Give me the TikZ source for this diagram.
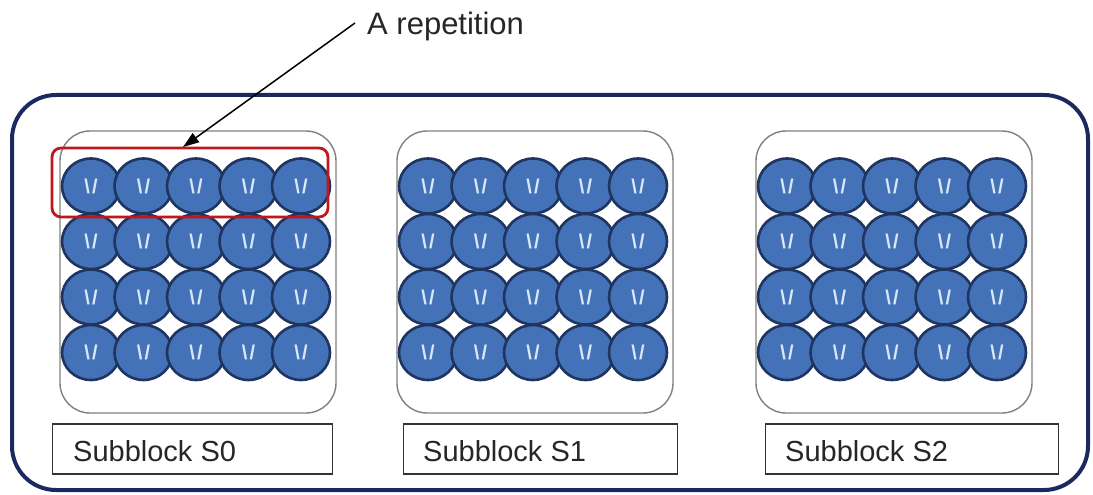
\documentclass[tikz,border=0pt]{standalone}
\usepackage{fontspec}
\setmainfont{Liberation Sans}
\usetikzlibrary{arrows.meta,calc,shapes.geometric}
\definecolor{navy}{HTML}{1B2A5E}
\definecolor{ballfill}{HTML}{4372B8}
\definecolor{ballline}{HTML}{1F3560}
\definecolor{balltext}{HTML}{D9E8F7}
\definecolor{redbox}{HTML}{C0161E}
\definecolor{subgray}{HTML}{808080}
\tikzset{
  ball/.style={ellipse,draw=ballline,fill=ballfill,line width=2.6pt,minimum width=58pt,minimum height=55pt,inner sep=0pt,
    text=balltext,font=\fontsize{20}{20}\selectfont\bfseries},
  subbox/.style={draw=subgray,line width=1.4pt,rounded corners=30pt},
  labelbox/.style={draw=black!80,line width=1.4pt,minimum height=50pt,
    inner sep=0pt,anchor=west},
  labeltext/.style={font=\fontsize{29}{34}\selectfont,text=black!85,anchor=west,inner sep=0pt},
  outer/.style={draw=navy,line width=4pt,rounded corners=44pt},
  repbox/.style={draw=redbox,line width=2.8pt,rounded corners=9pt},
}
\begin{document}
\begin{tikzpicture}[x=1pt,y=-1pt]
\useasboundingbox (0,0) rectangle (1093,495);
\draw[outer] (12,95) rectangle (1088,490);
\foreach \n/\bx/\lx/\lw/\tx in {0/60/52/280/73,1/397/403/274/423,2/756/765/293/785}{
  \draw[subbox] (\bx,131) rectangle ({\bx+276},413);
  \foreach \r in {0,1,2,3}{
    \foreach \c in {0,1,2,3,4}{
      \node[ball] (b\n-\r-\c) at ({\bx+31+52.5*\c},{186+55.5*\r}) {\raisebox{-5pt}{\textbackslash\hspace{2pt}/}};
    }
  }
  \node[labelbox,minimum width=\lw pt] (lab\n) at (\lx,449) {};
  \node[labeltext] (labt\n) at (\tx,451) {Subblock S\n};
}
\draw[repbox] (52,148) rectangle (328,217);
\node[font=\fontsize{31}{36}\selectfont,anchor=west,text=black!85,inner sep=0pt] (rep) at (367,26) {A repetition};
\coordinate (start) at ($(rep.west)+(-12,-3)$);
\coordinate (tip) at (183,147);
\draw[line width=1.5pt,-{Triangle[length=16pt,width=11pt]}] (start) -- (tip);
\end{tikzpicture}
\end{document}
